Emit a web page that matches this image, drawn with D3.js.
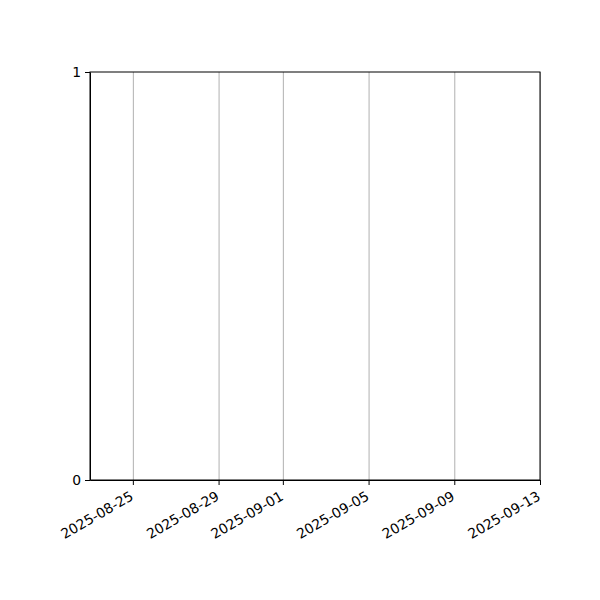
<!DOCTYPE html>
<html>
<head>
<meta charset="UTF-8">
<title>Empty date chart</title>
<style>
body { margin: 0; background: #fff; }
.axis text { font: 13.9px "DejaVu Sans", sans-serif; fill: #000; }
.axis path, .axis line { stroke: #000; stroke-width: 1px; }
.grid line { stroke: #b0b0b0; stroke-width: 1px; }
.grid path { display: none; }
</style>
</head>
<body>
<script src="https://cdn.jsdelivr.net/npm/d3@7"></script>
<script>
// x domain and tick dates, y ticks
var xDomain = ["2025-08-23", "2025-09-13"];
var xTicks = ["2025-08-25", "2025-08-29", "2025-09-01", "2025-09-05", "2025-09-09", "2025-09-13"];
var yTicks = [0, 1];

var margin = {top: 72, right: 60, bottom: 120, left: 90},
    width = 600 - margin.left - margin.right,
    height = 600 - margin.top - margin.bottom;

var parse = d3.utcParse("%Y-%m-%d");
var fmt = d3.utcFormat("%Y-%m-%d");

var svg = d3.select("body").append("svg")
    .attr("width", 600)
    .attr("height", 600)
  .append("g")
    .attr("transform", "translate(" + margin.left + "," + margin.top + ")");

var x = d3.scaleUtc()
    .domain(xDomain.map(parse))
    .range([0, width]);

var y = d3.scaleLinear()
    .domain([0, 1])
    .range([height, 0]);

// vertical gridlines
svg.append("g")
    .attr("class", "grid")
    .attr("transform", "translate(0," + height + ")")
    .call(d3.axisBottom(x).tickValues(xTicks.map(parse)).tickSize(-height).tickFormat(""));

// frame
svg.append("rect")
    .attr("width", width)
    .attr("height", height)
    .attr("fill", "none")
    .attr("stroke", "#000")
    .attr("stroke-width", 1);

// x axis with rotated labels
var xAxis = svg.append("g")
    .attr("class", "axis")
    .attr("transform", "translate(0," + height + ")")
    .call(d3.axisBottom(x).tickValues(xTicks.map(parse)).tickFormat(fmt).tickSize(5).tickSizeOuter(0));

xAxis.selectAll("text")
    .attr("text-anchor", "end")
    .attr("dx", 0)
    .attr("dy", 0)
    .attr("y", 0)
    .attr("transform", "translate(1,19) rotate(-30)");

// y axis
svg.append("g")
    .attr("class", "axis")
    .call(d3.axisLeft(y).tickValues(yTicks).tickFormat(d3.format("d")).tickSize(5).tickSizeOuter(0).tickPadding(4));
</script>
</body>
</html>
